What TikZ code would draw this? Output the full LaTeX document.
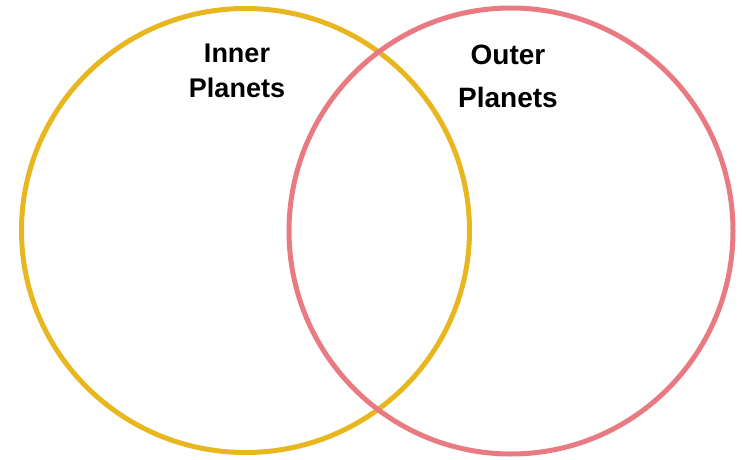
\documentclass[tikz,border=0pt]{standalone}
\usepackage{fontspec}
\setmainfont{Liberation Sans}
\usepackage{xcolor}
\usetikzlibrary{shapes.geometric}
\definecolor{innergold}{HTML}{E8B61E}
\definecolor{outerpink}{HTML}{EA7A82}

\begin{document}
\begin{tikzpicture}[
  x=1pt, y=1pt,
  ring/.style={ellipse, draw, line width=5pt, inner sep=0pt},
  title/.style={align=center, font=\bfseries}
]
\useasboundingbox (0,0) rectangle (742,459);
\node[ring, draw=innergold, minimum width=448pt, minimum height=444pt] (inner) at (245.5,228.5) {};
\node[ring, draw=outerpink, minimum width=444pt, minimum height=446pt] (outer) at (511,228) {};
\node[title, font=\bfseries\fontsize{27}{35}\selectfont] (innerlbl) at (237,388) {Inner\\Planets};
\node[title, font=\bfseries\fontsize{28}{43}\selectfont] (outerlbl) at (508,383) {Outer\\Planets};
\end{tikzpicture}
\end{document}
